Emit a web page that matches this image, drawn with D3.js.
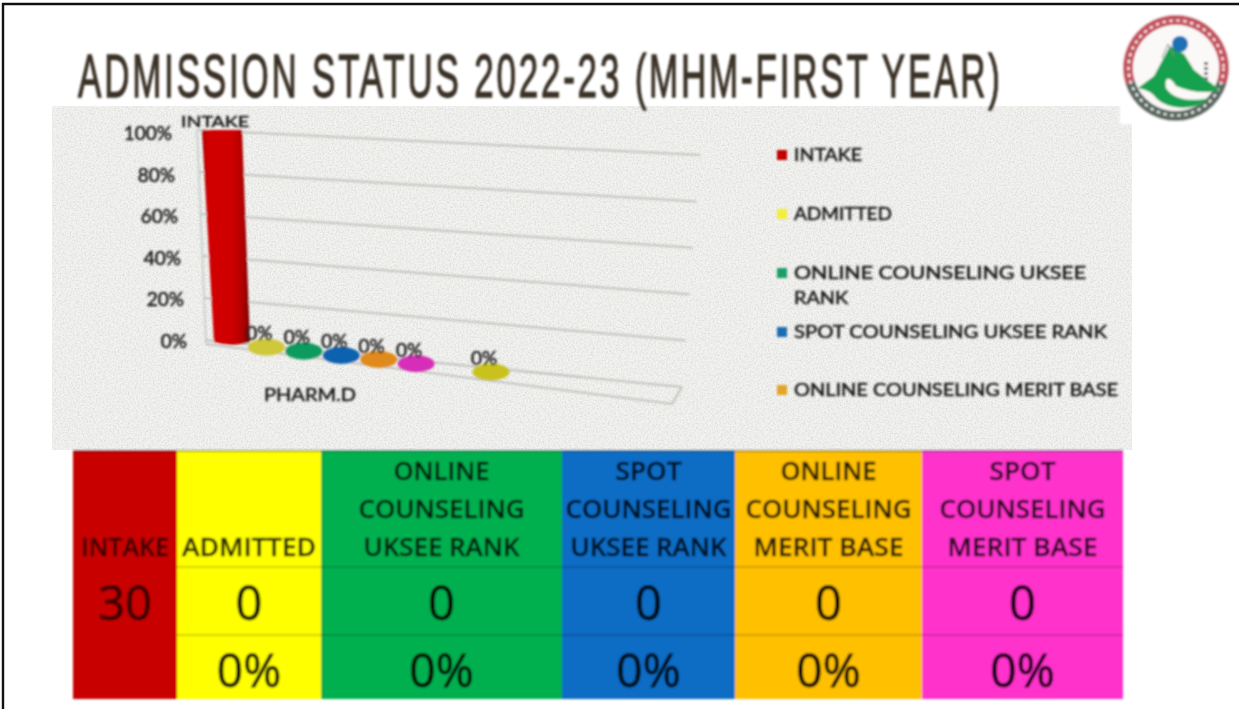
<!DOCTYPE html>
<html><head><meta charset="utf-8">
<script src="https://cdn.jsdelivr.net/npm/d3@7"></script>
<style>html,body{margin:0;padding:0;background:#fff;overflow:hidden}svg{display:block}</style>
</head><body><div id="c"></div>
<script>
const titleText = "ADMISSION STATUS 2022-23 (MHM-FIRST YEAR)";
const categoryLabel = "PHARM.D";
const axisTicks = [0, 20, 40, 60, 80, 100];
// depth slot 6 is empty in the source chart, so the last series sits in slot 7
const chartSlots = [0, 1, 2, 3, 4, 5, 7];
const chartValues = [100, 0, 0, 0, 0, 0, 0];
const chartColors = ["#c00000", "#cfc83a", "#0f9a5e", "#0a62b0", "#e08a1e", "#d62fb8", "#c9c21e"];
const legendLines = [["INTAKE"], ["ADMITTED"], ["ONLINE COUNSELING UKSEE", "RANK"], ["SPOT COUNSELING UKSEE RANK"], ["ONLINE COUNSELING MERIT BASE"]];
const legendColors = ["#c00000", "#f2ee3c", "#1f9e68", "#1c6db0", "#e2a52c"];
const tableHeaders = [["INTAKE"], ["ADMITTED"], ["ONLINE", "COUNSELING", "UKSEE RANK"], ["SPOT", "COUNSELING", "UKSEE RANK"], ["ONLINE", "COUNSELING", "MERIT BASE"], ["SPOT", "COUNSELING", "MERIT BASE"]];
const tableCounts = [30, 0, 0, 0, 0, 0];
const tablePercents = ["", "0%", "0%", "0%", "0%", "0%"];
const tableColors = ["#c80000", "#ffff00", "#00b050", "#0a6cc4", "#ffc000", "#ff33cc"];

const W = 1239, H = 709;
const svg = d3.select("#c").append("svg").attr("width", W).attr("height", H).attr("viewBox", [0, 0, W, H]);
const defs = svg.append("defs");
const soft = defs.append("filter").attr("id", "soft").attr("filterUnits", "userSpaceOnUse").attr("x", 0).attr("y", 0).attr("width", W).attr("height", H);
soft.append("feGaussianBlur").attr("stdDeviation", 0.8);
const noise = defs.append("filter").attr("id", "noise").attr("x", 0).attr("y", 0).attr("width", "100%").attr("height", "100%");
noise.append("feTurbulence").attr("type", "fractalNoise").attr("baseFrequency", 0.6).attr("numOctaves", 2).attr("seed", 4);
noise.append("feColorMatrix").attr("values", "0 0 0 0 0.55  0 0 0 0 0.55  0 0 0 0 0.53  1 0 0 0 -0.38");
const barGrad = defs.append("linearGradient").attr("id", "barGrad");
[[0, "#a80000"], [0.12, "#d00404"], [0.6, "#d00000"], [0.85, "#b00000"], [1, "#700000"]].forEach(([o, c]) => barGrad.append("stop").attr("offset", o).attr("stop-color", c));

// chart panel, kept sharp so its speckle survives
svg.append("rect").attr("x", 52).attr("y", 106).attr("width", 1080).attr("height", 344).attr("fill", "#f3f3f1");
svg.append("rect").attr("x", 52).attr("y", 106).attr("width", 1080).attr("height", 344).attr("filter", "url(#noise)");

const root = svg.append("g").attr("filter", "url(#soft)");

// title: narrow glyphs with open letter spacing
const titleEl = root.append("text").text(titleText)
  .attr("font-family", "'Liberation Sans Narrow','Liberation Sans',sans-serif").attr("font-size", 62)
  .attr("letter-spacing", 5)
  .attr("fill", "#3a3026").attr("stroke", "#3a3026").attr("stroke-width", 1.3);
const titleLen = titleEl.node().getComputedTextLength();
titleEl.attr("transform", `translate(78,97) scale(${925 / titleLen},1)`);

// perspective scales
const yLeft = d3.scaleLinear().domain([0, 100]).range([340, 130]);
const yRight = d3.scaleLinear().domain([0, 100]).range([387, 155]);
const xLeft = d3.scaleLinear().domain([0, 100]).range([206, 197]);
const xRight = d3.scaleLinear().domain([0, 100]).range([682, 700]);
const xTickEnd = d3.scaleLinear().domain([0, 100]).range([187, 172]);
const yTick = d3.scaleLinear().domain([0, 100]).range([342, 134]);
const depthX = d3.scaleLinear().domain([0, 7]).range([229, 491]);
const depthY = d3.scaleLinear().domain([0, 7]).range([342, 371]);
const grid = root.append("g");
const line = d3.line();
axisTicks.forEach(t => {
  grid.append("path").attr("d", line([[xLeft(t), yLeft(t)], [xRight(t), yRight(t)]]))
    .attr("stroke", "#b6b6b2").attr("stroke-width", 1.5).attr("fill", "none");
});
grid.append("path").attr("d", line([[xLeft(100), yLeft(100)], [xLeft(0), yLeft(0) + 4]])).attr("stroke", "#c4ccc4").attr("stroke-width", 1.6);
grid.append("path").attr("d", line([[xLeft(0), yLeft(0) + 4], [672, 404], [682, 387]])).attr("stroke", "#b6b6b2").attr("stroke-width", 1.5).attr("fill", "none");

const labelFont = "Lato, 'Open Sans', sans-serif";
const labelInk = "#1c1c1c";
const inked = sel => sel.attr("font-family", labelFont).attr("font-weight", 400)
  .attr("fill", labelInk).attr("stroke", labelInk).attr("stroke-width", 0.55);
inked(root.append("g").selectAll("text").data(axisTicks).join("text")
  .text(d => d + "%").attr("x", d => xTickEnd(d)).attr("y", d => yTick(d) + 6)
  .attr("text-anchor", "end").attr("font-size", 19));

// zero-height series as discs, from the last back to the first
const marks = root.append("g");
const series = chartValues.map((v, i) => ({ v, slot: chartSlots[i], color: chartColors[i] }));
series.slice().reverse().forEach(d => {
  const cx = depthX(d.slot), cy = depthY(d.slot);
  if (d.v > 0) {
    const halfTop = 20, halfBot = 18;
    const slant = d3.scaleLinear().domain([0, 100]).range([3, -7]);
    const topY = d3.scaleLinear().domain([0, 100]).range([cy, 130])(d.v);
    const topX = cx + slant(d.v);
    const p = d3.path();
    p.moveTo(topX - halfTop, topY);
    p.lineTo(topX + halfTop, topY);
    p.lineTo(cx + 3 + halfBot, cy);
    p.quadraticCurveTo(cx + 3, cy + 6, cx + 3 - halfBot, cy);
    p.closePath();
    marks.append("path").attr("d", p.toString()).attr("fill", "url(#barGrad)");
  } else {
    marks.append("ellipse").attr("cx", cx).attr("cy", cy + 1).attr("rx", 18.5).attr("ry", 8.5).attr("fill", d.color);
  }
});
// value labels
inked(root.append("g").selectAll("text").data(series.filter(d => d.v === 0)).join("text")
  .text(d => d.v + "%").attr("x", d => depthX(d.slot) - 7).attr("y", d => depthY(d.slot) - 6)
  .attr("text-anchor", "middle").attr("font-size", 19));
inked(root.append("text").text(legendLines[0][0]).attr("x", 215).attr("y", 127).attr("text-anchor", "middle")
  .attr("textLength", 68).attr("lengthAdjust", "spacingAndGlyphs").attr("font-size", 16));
inked(root.append("text").text(categoryLabel).attr("x", 310).attr("y", 401).attr("text-anchor", "middle")
  .attr("textLength", 92).attr("lengthAdjust", "spacingAndGlyphs").attr("font-size", 18));

// legend
const legendY = [161, 220, 279, 338, 396];
const legendWidths = [[68], [98], [292, 54], [313], [324]];
const legendG = root.append("g");
legendLines.forEach((lines, i) => {
  legendG.append("rect").attr("x", 777).attr("y", legendY[i] - 11).attr("width", 10).attr("height", 10).attr("fill", legendColors[i]);
  lines.forEach((t, j) => {
    inked(legendG.append("text").text(t).attr("x", 794).attr("y", legendY[i] + j * 25)
      .attr("textLength", legendWidths[i][j]).attr("lengthAdjust", "spacingAndGlyphs").attr("font-size", 18));
  });
});

// table
const colEdges = [73, 177, 321, 562, 735, 922, 1123];
const rowEdges = [451, 567, 635, 699];
const tableFont = "'Open Sans','Noto Sans',sans-serif";
const ink = "#000";
const headerW = { "INTAKE": 88, "ADMITTED": 134, "ONLINE": 96, "SPOT": 66, "COUNSELING": 166, "UKSEE RANK": 156, "MERIT BASE": 150 };
const table = root.append("g");
tableHeaders.forEach((lines, i) => {
  const x0 = colEdges[i], x1 = colEdges[i + 1], cx = (x0 + x1) / 2;
  table.append("rect").attr("x", x0).attr("y", rowEdges[0]).attr("width", x1 - x0).attr("height", rowEdges[3] - rowEdges[0]).attr("fill", tableColors[i]);
  const last = 556;
  lines.forEach((t, j) => {
    table.append("text").text(t).attr("x", cx).attr("y", last - (lines.length - 1 - j) * 38)
      .attr("text-anchor", "middle").attr("textLength", headerW[t]).attr("lengthAdjust", "spacingAndGlyphs")
      .attr("font-family", tableFont).attr("font-weight", 600).attr("font-size", 26).attr("fill", ink)
      .attr("stroke", ink).attr("stroke-width", 0.4).attr("opacity", i === 0 ? 0.7 : 0.85);
  });
  table.append("text").text(tableCounts[i]).attr("x", cx).attr("y", 620).attr("text-anchor", "middle")
    .attr("font-family", tableFont).attr("font-weight", 400).attr("font-size", 47).attr("fill", ink)
    .attr("stroke", ink).attr("stroke-width", 1).attr("opacity", i === 0 ? 0.7 : 0.92);
  if (tablePercents[i]) table.append("text").text(tablePercents[i]).attr("x", cx).attr("y", 687).attr("text-anchor", "middle")
    .attr("font-family", tableFont).attr("font-weight", 400).attr("font-size", 46).attr("fill", ink)
    .attr("stroke", ink).attr("stroke-width", 1).attr("opacity", 0.92);
});
[rowEdges[1], rowEdges[2]].forEach(y => table.append("line").attr("x1", colEdges[1]).attr("x2", colEdges[6]).attr("y1", y).attr("y2", y).attr("stroke", "#000").attr("stroke-opacity", 0.35));
table.append("line").attr("x1", colEdges[0]).attr("x2", colEdges[6]).attr("y1", rowEdges[0]).attr("y2", rowEdges[0]).attr("stroke", "#000").attr("stroke-opacity", 0.5).attr("stroke-width", 1.5);

// logo
const logo = root.append("g").attr("transform", "translate(1176,68)");
logo.append("rect").attr("x", -56).attr("y", -56).attr("width", 112).attr("height", 112).attr("fill", "#fff");
const ring = d3.arc().innerRadius(43).outerRadius(53);
logo.append("path").attr("d", ring({ startAngle: -Math.PI * 0.6, endAngle: Math.PI * 0.6 })).attr("fill", "#c4545f");
logo.append("path").attr("d", ring({ startAngle: Math.PI * 0.6, endAngle: Math.PI * 1.4 })).attr("fill", "#5c6a62");
logo.append("circle").attr("r", 47.5).attr("fill", "none").attr("stroke", "#fff").attr("stroke-width", 2).attr("stroke-dasharray", "3 4");
logo.append("circle").attr("r", 43).attr("fill", "#fbf8f8");
logo.append("path").attr("d", "M-38,20 L-22,8 L-6,-22 L8,-14 L18,2 L44,22 C30,26 14,24 0,18 C-6,8 -12,8 -10,20 C-2,32 14,34 34,30 C18,44 -8,42 -20,30 C-24,24 -30,22 -38,20Z").attr("fill", "#15a14f");
logo.append("circle").attr("cx", 4).attr("cy", -24).attr("r", 8).attr("fill", "#1f6fb5");
logo.append("path").attr("d", "M-14,-10 L-8,-24 L-2,-12").attr("fill", "none").attr("stroke", "#888");
logo.append("path").attr("d", "M30,-6 V14").attr("stroke", "#777").attr("stroke-width", 4).attr("stroke-dasharray", "3 2");

// frame, sharp and on top
svg.append("path").attr("d", "M3,709V4H1239").attr("fill", "none").attr("stroke", "#111").attr("stroke-width", 2.4);
</script></body></html>
